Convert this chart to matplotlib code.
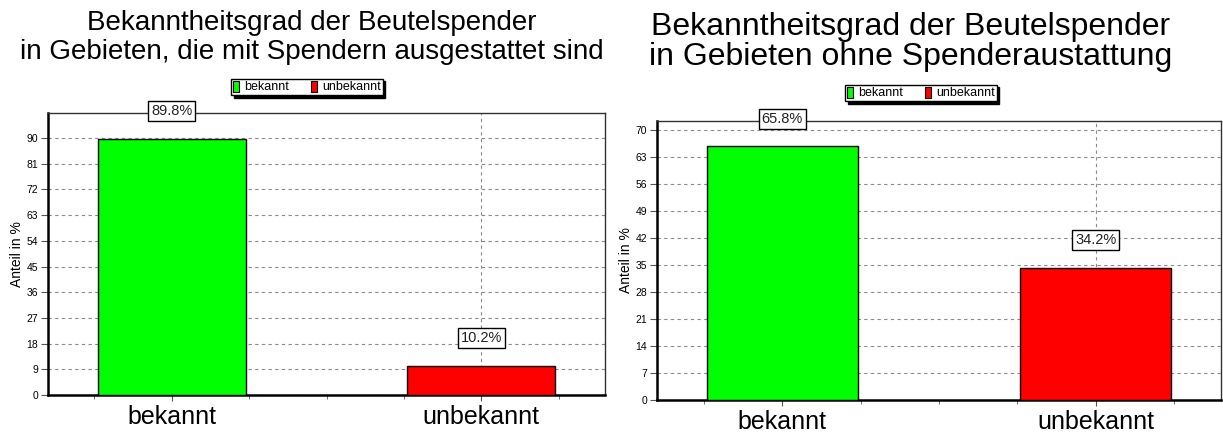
import numpy as np
import matplotlib
matplotlib.use("Agg")
import matplotlib.pyplot as plt
from matplotlib.patches import Patch
from matplotlib.ticker import FixedLocator

plt.rcParams['font.family'] = ['Liberation Sans', 'DejaVu Sans']

categories = ['bekannt', 'unbekannt']
colors = ['#00ff00', '#ff0000']

title_left = "Bekanntheitsgrad der Beutelspender\nin Gebieten, die mit Spendern ausgestattet sind"
values_left = [89.8, 10.2]
step_left = 9

title_right = "Bekanntheitsgrad der Beutelspender\nin Gebieten ohne Spenderaustattung"
values_right = [65.8, 34.2]
step_right = 7

fig = plt.figure(figsize=(12.23, 4.32), dpi=100)
ax1 = fig.add_axes([48 / 1223, 37 / 432, 557 / 1223, 282 / 432])
ax2 = fig.add_axes([657 / 1223, 32 / 432, 564 / 1223, 279 / 432])


def draw(ax, values, step):
    x = np.arange(len(categories))
    ax.bar(x, values, width=0.48, color=colors, edgecolor='black',
           linewidth=1, zorder=3)
    ax.set_xlim(-0.4, 1.4)
    ax.set_ylim(0, max(values) * 1.1)
    ax.set_yticks(np.arange(0, max(values) * 1.1, step))
    ax.set_xticks(x)
    ax.set_xticklabels(categories, fontsize=18)
    ax.xaxis.set_minor_locator(FixedLocator([-0.25, 0.25, 0.5, 0.75, 1.25]))
    ax.tick_params(axis='y', labelsize=7.5, length=5, width=0.8,
                   color='#555555', pad=2)
    ax.tick_params(axis='x', which='major', length=4, color='#555555', pad=3)
    ax.tick_params(axis='x', which='minor', length=3, color='#555555')
    ax.grid(True, axis='both', which='major', linestyle=(0, (3, 3)),
            color='#8a8a8a', linewidth=0.8, zorder=0)
    ax.xaxis.get_gridlines()[0].set_visible(False)
    ax.set_ylabel('Anteil in %', fontsize=10, labelpad=2)
    for side in ['left', 'bottom']:
        ax.spines[side].set_linewidth(1.8)
        ax.spines[side].set_color('black')
    for side in ['top', 'right']:
        ax.spines[side].set_linewidth(1.0)
        ax.spines[side].set_color('#333333')
    for xi, v in zip(x, values):
        ax.annotate(f'{v:.1f}%', (xi, v), xytext=(0, 20),
                    textcoords='offset points', ha='center', va='center',
                    fontsize=10.5, color='#222222', zorder=5,
                    annotation_clip=False,
                    bbox=dict(boxstyle='square,pad=0.2', fc='white',
                              ec='black', lw=1))
    handles = [Patch(facecolor=c, edgecolor='black', linewidth=0.8, label=l)
               for c, l in zip(colors, categories)]
    return handles


h = draw(ax1, values_left, step_left)
draw(ax2, values_right, step_right)

fig.text(312 / 1223, 1 - 10 / 432, title_left, ha='center', va='top',
         fontsize=20, linespacing=1.13)
fig.text(911 / 1223, 1 - 12 / 432, title_right, ha='center', va='top',
         fontsize=23, linespacing=1.02)

for cx, cy in [(307, 87), (921, 93)]:
    fig.legend(handles=h, loc='center', bbox_to_anchor=(cx / 1223, 1 - cy / 432),
               ncol=2, fontsize=9, frameon=True, fancybox=False,
               edgecolor='black', framealpha=1, borderpad=0.15,
               handlelength=0.45, handleheight=1.0, handletextpad=0.4,
               columnspacing=1.8, borderaxespad=0,
               shadow={'color': 'black', 'alpha': 1})

fig.savefig('out.png', dpi=100, facecolor='white')
